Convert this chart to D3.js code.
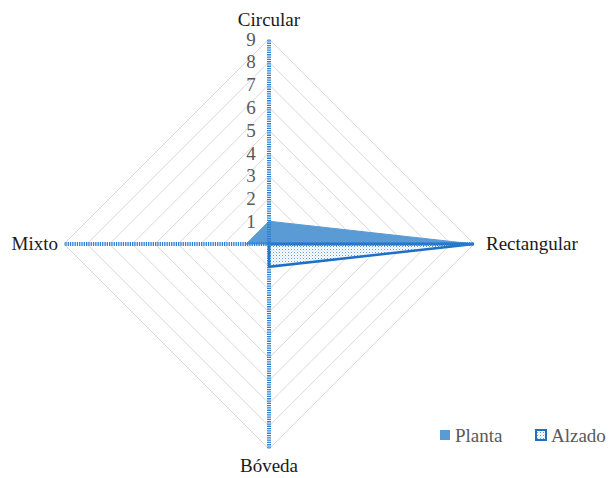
<!DOCTYPE html>
<html><head><meta charset="utf-8">
<script src="https://cdn.jsdelivr.net/npm/d3@7"></script>
<style>body{margin:0;background:#fff}svg{display:block}text{font-family:"Liberation Serif","Times New Roman","DejaVu Serif",serif}</style>
</head><body>
<svg id="c" width="614" height="478"></svg>
<script>
const axesNames = ["Circular", "Rectangular", "Bóveda", "Mixto"];
const tickValues = [1,2,3,4,5,6,7,8,9];
const planta = [1, 9, 0, 1];
const alzado = [0, 9, 1, 0];
const seriesNames = ["Planta", "Alzado"];

const svg = d3.select("#c");
const cx = 269, cy = 244, R = 205;
const r = d3.scaleLinear().domain([0, 9]).range([0, R]);
const ang = i => i * Math.PI / 2; // 0 = up
const pt = (i, v) => [cx + r(v) * Math.sin(ang(i)), cy - r(v) * Math.cos(ang(i))];

const defs = svg.append("defs");
const pat = defs.append("pattern").attr("id","dots").attr("width",3).attr("height",3).attr("patternUnits","userSpaceOnUse");
pat.append("rect").attr("width",3).attr("height",3).attr("fill","#fff");
pat.append("rect").attr("width",1).attr("height",1).attr("fill","#5b9bd5");
pat.append("rect").attr("x",1.5).attr("y",1.5).attr("width",1).attr("height",1).attr("fill","#9dc3e6");

// grid
tickValues.forEach(t => {
  svg.append("polygon")
    .attr("points", axesNames.map((_, i) => pt(i, t).join(",")).join(" "))
    .attr("fill", "none").attr("stroke", "#d9d9d9").attr("stroke-width", 1);
});

// Planta area
const line = d3.line().curve(d3.curveLinearClosed);
svg.append("path").attr("d", line(planta.map((v, i) => pt(i, v))))
  .attr("fill", "#5b9bd5").attr("stroke", "#5b9bd5").attr("stroke-width", 1);

// Alzado
svg.append("path").attr("d", line(alzado.map((v, i) => pt(i, v))))
  .attr("fill", "url(#dots)").attr("stroke", "#1f6fc5").attr("stroke-width", 2.5)
  .attr("stroke-linejoin","miter");

// axes
axesNames.forEach((_, i) => {
  const [x, y] = pt(i, 9);
  svg.append("line").attr("x1", cx).attr("y1", cy).attr("x2", x).attr("y2", y)
    .attr("stroke", "#2e7fd0").attr("stroke-width", 4).attr("stroke-dasharray", "1.3,1");
});

// tick labels
tickValues.forEach(t => {
  svg.append("text").attr("x", cx - 18).attr("y", cy - r(t)).attr("dy", "0.35em")
    .attr("text-anchor", "middle")
    .attr("font-size", 19).attr("fill", "#595959").text(t);
});

// axis labels
const lab = [[cx, 26, "middle"], [cx + R + 12, cy + 6, "start"], [cx, 472, "middle"], [cx - R - 6, cy + 6, "end"]];
axesNames.forEach((n, i) => {
  svg.append("text").attr("x", lab[i][0]).attr("y", lab[i][1]).attr("text-anchor", lab[i][2])
    .attr("font-size", 19).attr("fill", "#1a1a1a").text(n);
});

// legend
const lg = svg.append("g").attr("font-size", 19).attr("fill", "#595959");
lg.append("rect").attr("x", 440).attr("y", 430).attr("width", 10).attr("height", 10).attr("fill", "#5b9bd5");
lg.append("text").attr("x", 455).attr("y", 442).text(seriesNames[0]);
lg.append("rect").attr("x", 536).attr("y", 430).attr("width", 10).attr("height", 10).attr("fill", "url(#dots)").attr("stroke", "#1f6fc5").attr("stroke-width", 2);
lg.append("text").attr("x", 551).attr("y", 442).text(seriesNames[1]);
</script>
</body></html>
